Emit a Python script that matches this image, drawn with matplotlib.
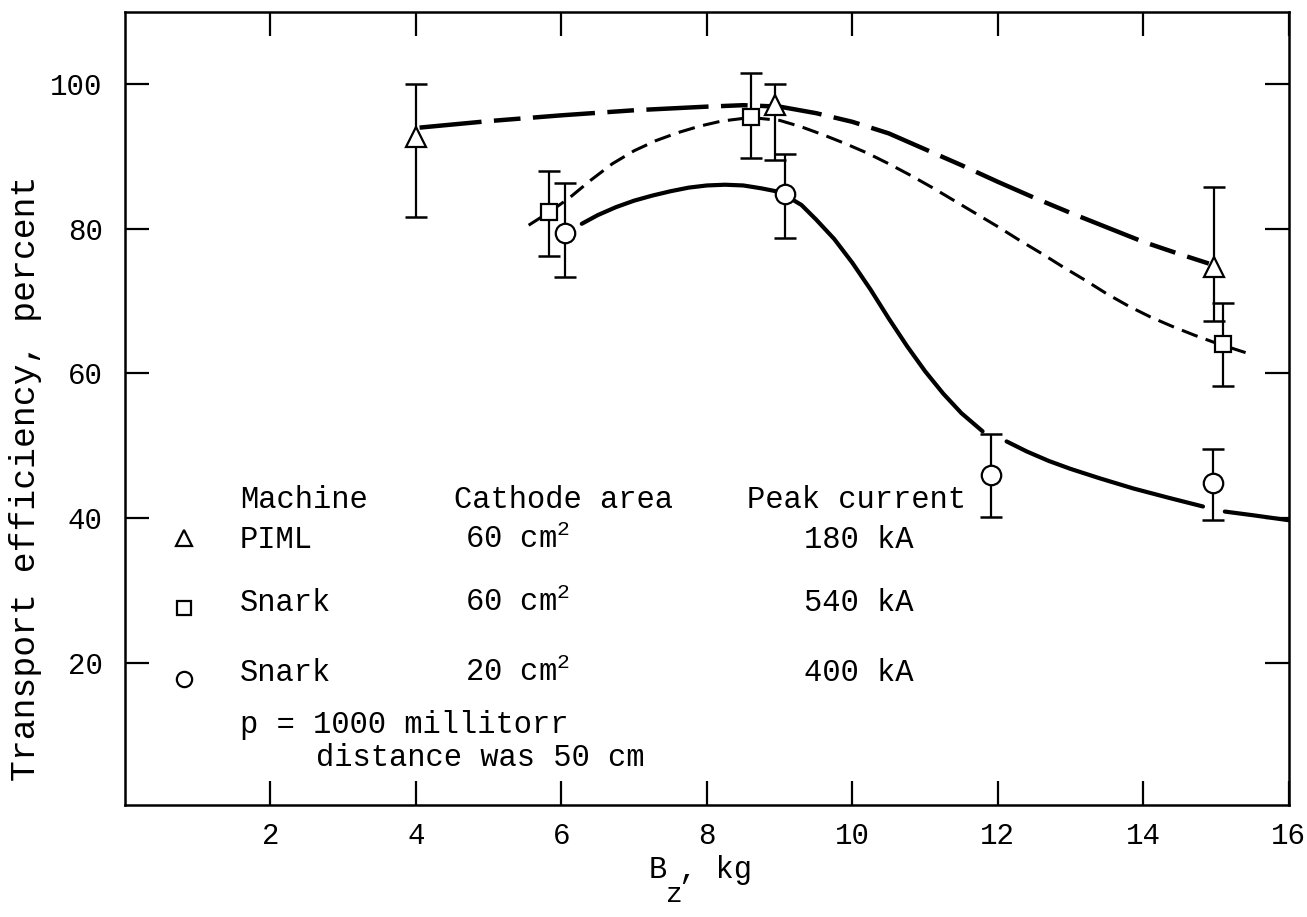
import numpy as np
import matplotlib.pyplot as plt

plt.rcParams['font.family'] = ['Liberation Mono', 'DejaVu Sans Mono']
plt.rcParams['mathtext.fontset'] = 'custom'
plt.rcParams['mathtext.rm'] = 'Liberation Mono'
plt.rcParams['mathtext.it'] = 'Liberation Mono'

# measured points: field (kg), efficiency (%), error bar low / high
piml_x = [4.0, 8.93, 14.97]
piml_y = [92.7, 97.1, 74.7]
piml_lo = [81.7, 89.5, 67.2]
piml_hi = [100.0, 100.1, 85.8]

snark60_x = [5.83, 8.61, 15.1]
snark60_y = [82.3, 95.4, 64.1]
snark60_lo = [76.3, 89.8, 58.2]
snark60_hi = [88.0, 101.5, 69.7]

snark20_x = [6.05, 9.08, 11.9, 14.96]
snark20_y = [79.4, 84.8, 45.9, 44.8]
snark20_lo = [73.3, 78.7, 40.2, 39.7]
snark20_hi = [86.3, 90.3, 51.6, 49.5]

# faired curves
piml_fit_x = [4.05, 5.0, 6.0, 7.0, 8.0, 8.5, 9.0, 9.5, 10.0, 10.5, 11.0, 11.5, 12.0,
              12.5, 13.0, 13.5, 14.0, 14.5, 14.9]
piml_fit_y = [94.0, 94.9, 95.7, 96.4, 96.9, 97.1, 96.9, 96.0, 94.8, 93.2, 91.0, 88.8, 86.5,
              84.3, 82.2, 80.2, 78.2, 76.5, 75.2]

snark60_fit_x = [5.55, 5.83, 6.1, 6.4, 6.7, 7.0, 7.3, 7.6, 7.9, 8.2, 8.6, 9.0, 9.3, 9.6, 9.9,
                 10.2, 10.5, 10.8, 11.1, 11.4, 11.7, 12.0, 12.3, 12.6, 12.9, 13.2, 13.5,
                 13.8, 14.1, 14.4, 14.7, 15.0, 15.43]
snark60_fit_y = [80.5, 82.3, 84.2, 86.7, 89.0, 90.8, 92.2, 93.3, 94.2, 94.9, 95.4, 95.0, 94.1,
                 93.0, 91.8, 90.5, 89.0, 87.4, 85.7, 83.9, 82.1, 80.3, 78.4, 76.6, 74.7,
                 72.9, 71.0, 69.3, 67.8, 66.5, 65.3, 64.2, 62.8]

snark20_fit_x = [6.28, 6.5, 6.75, 7.0, 7.25, 7.5, 7.75, 8.0, 8.25, 8.5, 8.75, 9.0, 9.3, 9.5,
                 9.75, 10.0, 10.25, 10.5, 10.75, 11.0, 11.25, 11.5, 11.79,
                 np.nan, 12.12, 12.4, 12.7, 13.0, 13.4, 13.86, 14.35, 14.82,
                 np.nan, 15.12, 15.5, 16.0]
snark20_fit_y = [80.7, 81.9, 83.0, 83.9, 84.6, 85.2, 85.7, 86.0, 86.1, 86.0, 85.6, 85.1, 83.3,
                 81.3, 78.6, 75.3, 71.6, 67.6, 63.8, 60.3, 57.2, 54.5, 52.0,
                 np.nan, 50.6, 49.2, 47.9, 46.8, 45.5, 44.1, 42.8, 41.6,
                 np.nan, 40.9, 40.4, 39.7]

machines = ['PIML', 'Snark', 'Snark']
areas = ['60 cm$^2$', '60 cm$^2$', '20 cm$^2$']
currents = ['180 kA', '540 kA', '400 kA']
symbols = ['^', 's', 'o']
symbol_sizes = [12, 10, 11]

fig = plt.figure(figsize=(13.07, 9.17), dpi=100)
ax = fig.add_axes([0.0956, 0.122, 0.8905, 0.865])

ax.plot(piml_fit_x, piml_fit_y, color='black', lw=3.2, dashes=(14, 2.8, 6, 2.8),
        solid_joinstyle='round', zorder=2)
ax.plot(snark60_fit_x, snark60_fit_y, color='black', lw=2.2, dashes=(5.5, 2.8), zorder=2)
ax.plot(snark20_fit_x, snark20_fit_y, color='black', lw=3.0, solid_capstyle='round',
        solid_joinstyle='round', zorder=2)

groups = [
    (piml_x, piml_y, piml_lo, piml_hi, '^', 14),
    (snark60_x, snark60_y, snark60_lo, snark60_hi, 's', 12),
    (snark20_x, snark20_y, snark20_lo, snark20_hi, 'o', 14),
]
for x, y, lo, hi, m, ms in groups:
    y = np.array(y)
    yerr = [y - np.array(lo), np.array(hi) - y]
    ax.errorbar(x, y, yerr=yerr, fmt='none', ecolor='black', elinewidth=1.6,
                capsize=8, capthick=1.8, zorder=3)
    ax.plot(x, y, linestyle='none', marker=m, ms=ms, mfc='white', mec='black',
            mew=1.6, zorder=4)

ax.set_xlim(0, 16)
ax.set_ylim(0.3, 110)
ax.set_xticks(range(2, 17, 2))
ax.set_yticks(range(20, 101, 20))
ax.tick_params(direction='in', length=17, width=1.6, labelsize=21,
               top=True, right=True)
ax.tick_params(axis='x', pad=12)
ax.tick_params(axis='y', pad=16)
for s in ax.spines.values():
    s.set_linewidth(1.8)

ax.set_ylabel('Transport efficiency, percent', fontsize=25)
ax.yaxis.set_label_coords(-0.071, 0.412)

# axis title with a full-height, well-lowered subscript
fig.text(649 / 1307, 1 - 878 / 917, 'B', fontsize=22, va='baseline')
fig.text(666 / 1307, 1 - 902 / 917, 'z', fontsize=20, va='baseline')
fig.text(679 / 1307, 1 - 878 / 917, ', kg', fontsize=22, va='baseline')

# key
ax.text(1.58, 41.45, 'Machine', fontsize=22, va='baseline')
ax.text(4.53, 41.45, 'Cathode area', fontsize=22, va='baseline')
ax.text(8.55, 41.45, 'Peak current', fontsize=22, va='baseline')
row_y = [35.9, 27.2, 17.5]
mark_y = [37.3, 27.5, 17.8]
for yy, my, name, area, cur, m, ms in zip(row_y, mark_y, machines, areas, currents,
                                          symbols, symbol_sizes):
    ax.plot(0.81, my, marker=m, ms=ms, mfc='white', mec='black', mew=1.6,
            linestyle='none')
    ax.text(1.58, yy, name, fontsize=22, va='baseline')
    ax.text(4.67, yy, area, fontsize=22, va='baseline')
    ax.text(9.34, yy, cur, fontsize=22, va='baseline')
ax.text(1.58, 10.3, 'p = 1000 millitorr', fontsize=22, va='baseline')
ax.text(2.63, 5.7, 'distance was 50 cm', fontsize=22, va='baseline')

fig.savefig('out.png', dpi=100)
